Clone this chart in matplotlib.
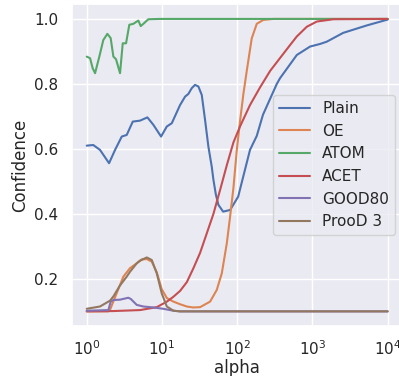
import matplotlib
matplotlib.use("Agg")
import matplotlib.pyplot as plt
import seaborn as sns

sns.set_theme()

# values
plain_alpha = [1.0, 1.22, 1.5, 1.98, 2.38, 2.92, 3.4, 4.09, 5.11, 6.4, 7.69, 9.73, 11.6, 13.5,
               17.4, 20.3, 22.4, 24.9, 27.5, 30.5, 33.8, 37.4, 41.4, 45.9, 48.3, 52.0, 56.2,
               65.0, 80.5, 103, 148, 182, 220, 336, 372, 620, 931, 1265, 1553, 2558, 5284, 10000]
plain_conf = [0.610, 0.612, 0.597, 0.556, 0.597, 0.638, 0.643, 0.684, 0.687, 0.697, 0.674, 0.638,
              0.669, 0.679, 0.735, 0.761, 0.769, 0.787, 0.797, 0.792, 0.766, 0.689, 0.607, 0.545,
              0.505, 0.460, 0.428, 0.407, 0.412, 0.453, 0.597, 0.640, 0.705, 0.800, 0.818, 0.889,
              0.915, 0.923, 0.930, 0.957, 0.980, 0.998]

oe_alpha = [1.0, 1.5, 1.94, 2.04, 2.5, 3.07, 3.76, 4.62, 5.39, 6.28, 7.32, 8.53, 9.94, 11.6,
            14.2, 17.4, 21.4, 25.9, 32.1, 43.6, 53.5, 62.4, 72.8, 80.5, 89.1, 98.8, 109, 121,
            134, 156, 182, 223, 303, 1000, 10000]
oe_conf = [0.100, 0.100, 0.100, 0.105, 0.156, 0.207, 0.233, 0.248, 0.260, 0.261, 0.253, 0.220,
           0.168, 0.141, 0.130, 0.122, 0.115, 0.112, 0.113, 0.130, 0.166, 0.217, 0.310, 0.392,
           0.480, 0.597, 0.685, 0.770, 0.840, 0.940, 0.985, 0.997, 1.0, 1.0, 1.0]

atom_alpha = [1.0, 1.107, 1.2, 1.29, 1.47, 1.66, 1.88, 2.08, 2.26, 2.45, 2.77, 3.01, 3.33, 3.68,
              4.17, 4.85, 5.22, 5.66, 6.59, 9.4, 100, 1000, 10000]
atom_conf = [0.884, 0.879, 0.848, 0.833, 0.884, 0.935, 0.954, 0.941, 0.884, 0.876, 0.833, 0.925,
             0.925, 0.982, 0.985, 0.995, 0.978, 0.985, 0.999, 1.0, 1.0, 1.0, 1.0]

acet_alpha = [1.0, 2.26, 5.11, 8.53, 11.6, 14.2, 17.4, 21.4, 26.2, 32.1, 39.4, 48.3, 59.3, 72.8,
              89.1, 109, 148, 202, 274, 372, 506, 620, 843, 1145, 1902, 10000]
acet_conf = [0.100, 0.101, 0.104, 0.113, 0.130, 0.145, 0.163, 0.190, 0.233, 0.280, 0.340, 0.400,
             0.474, 0.550, 0.620, 0.669, 0.735, 0.790, 0.840, 0.880, 0.920, 0.946, 0.976, 0.992,
             0.999, 1.0]

good_alpha = [1.0, 1.94, 2.08, 2.26, 2.77, 3.57, 3.86, 4.62, 5.66, 7.69, 10.4, 14.2, 17.4, 100, 10000]
good_conf = [0.102, 0.104, 0.130, 0.135, 0.136, 0.142, 0.138, 0.120, 0.115, 0.112, 0.108, 0.102,
             0.100, 0.100, 0.100]

prood_alpha = [1.0, 1.5, 2.04, 2.26, 2.77, 3.4, 3.76, 4.62, 5.11, 6.28, 7.32, 8.53, 9.94, 11.6,
               14.2, 17.4, 100, 10000]
prood_conf = [0.108, 0.115, 0.133, 0.146, 0.180, 0.207, 0.222, 0.248, 0.256, 0.266, 0.258, 0.217,
              0.155, 0.115, 0.102, 0.100, 0.100, 0.100]

series = [("Plain", plain_alpha, plain_conf),
          ("OE", oe_alpha, oe_conf),
          ("ATOM", atom_alpha, atom_conf),
          ("ACET", acet_alpha, acet_conf),
          ("GOOD80", good_alpha, good_conf),
          ("ProoD 3", prood_alpha, prood_conf)]

fig = plt.figure(figsize=(3.99, 3.76), dpi=100)
ax = fig.add_axes([71.7 / 399, 50 / 376, 331 / 399, 321.7 / 376])

for name, a, c in series:
    ax.plot(a, c, label=name)

ax.set_xscale("log")
ax.set_xlim(10 ** -0.2, 10 ** 4.2)
ax.set_ylim(0.055, 1.045)
ax.set_xlabel("alpha", labelpad=0.5)
ax.set_ylabel("Confidence")
ax.legend(loc="center right")

fig.savefig("out.png", dpi=100)
